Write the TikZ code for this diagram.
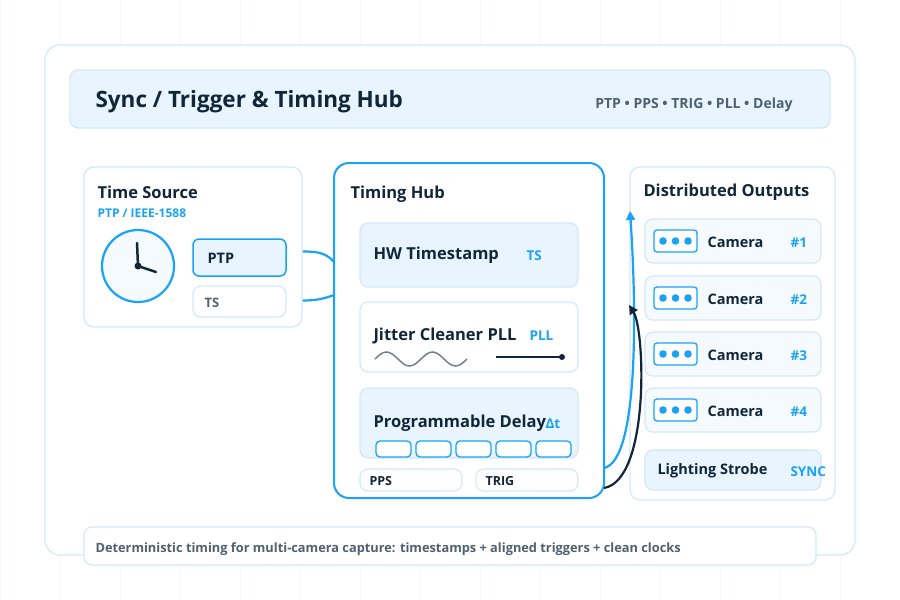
\documentclass[tikz,border=0pt]{standalone}
\usepackage{fontspec}
\setmainfont{Open Sans}
\usetikzlibrary{positioning,arrows.meta}
\definecolor{ink}{HTML}{12263A}
\definecolor{accent}{HTML}{1AA3F5}
\definecolor{soft}{HTML}{D2E8FA}
\definecolor{pale}{HTML}{E8F4FE}
\definecolor{paler}{HTML}{F5FAFF}
\definecolor{muted}{HTML}{4F6070}
\begin{document}
\begin{tikzpicture}
	[
		x=1pt, y=-1pt,
		panel/.style={draw=soft, line width=1.2pt, rounded corners=10pt, fill=white},
		card/.style={draw=soft, line width=1.2pt, rounded corners=8pt},
		head/.style={anchor=west, font=\bfseries\fontsize{16.5}{19}\selectfont, text=ink},
		tag/.style={anchor=west, font=\bfseries\fontsize{13.5}{15}\selectfont, text=accent},
		link/.style={accent, line width=2.2pt},
		arrow/.style={-{Triangle[length=9pt,width=9pt]}, line width=2.2pt}
	]
	\useasboundingbox (0,0) rectangle (900,600);
	\fill[white] (0,0) rectangle (900,600);
	\draw[pale!50, line width=0.6pt] (0,0) grid[step=60] (900,600);

	% frame and header
	\draw[panel, rounded corners=15pt] (45,45) rectangle (855,555);
	\draw[card, fill=pale] (70,70) rectangle (830,128);
	\node[anchor=west, font=\bfseries\fontsize{22.5}{26}\selectfont, text=ink] (title) at (92,102) {Sync / Trigger \& Timing Hub};
	\node[anchor=east, font=\bfseries\fontsize{14}{16}\selectfont, text=muted] (proto) at (796,105) {PTP • PPS • TRIG • PLL • Delay};

	% time source
	\draw[panel] (84,167) rectangle (302,327);
	\node[head] (srct) at (94,192) {Time Source};
	\node[tag, font=\bfseries\fontsize{12}{14}\selectfont] (srcs) at (94,213) {PTP / IEEE-1588};
	\node[circle, draw=accent, line width=2.2pt, fill=paler, minimum size=72pt] (clock) at (138,266) {};
	\draw[ink, line width=2.5pt, line cap=round] (137,243) -- (clock.center) -- (156,272);
	\fill[ink] (clock.center) circle (3.5pt);
	\node[draw=accent, line width=1.5pt, fill=pale, rounded corners=6pt, minimum width=93pt, minimum height=37pt] (ptp) at (239.5,257.5) {};
	\node[anchor=west, font=\bfseries\fontsize{14.5}{16}\selectfont, text=ink] at (204,258) {PTP};
	\node[card, fill=white, minimum width=93pt, minimum height=31pt] (ts) at (239.5,301.5) {};
	\node[anchor=west, font=\bfseries\fontsize{13}{15}\selectfont, text=muted] at (201,303) {TS};

	% timing hub
	\node[draw=accent, line width=2pt, rounded corners=15pt, fill=white, minimum width=270pt, minimum height=335pt] (hub) at (469,330.5) {};
	\node[head] (hubt) at (347,194) {Timing Hub};
	\draw[card, fill=pale] (360,223) rectangle (578,287);
	\node[head] (hwts) at (370,255) {HW Timestamp};
	\node[tag] at (523,256) {TS};
	\draw[card, fill=white] (360,302) rectangle (578,372);
	\node[head] (pll) at (370,336) {Jitter Cleaner PLL};
	\node[tag] at (526,336) {PLL};
	\draw[muted!80, line width=1.5pt] (375,359) sin (386.5,352) cos (398,359) sin (409.5,366) cos (421,359) sin (432.5,352) cos (444,359) sin (455.5,366) cos (467,359);
	\draw[ink, line width=2pt] (496,357) -- (562,357);
	\fill[ink] (562,357) circle (3pt);
	\draw[card, fill=pale] (360,388) rectangle (578,458);
	\node[head] (delay) at (370,423) {Programmable Delay};
	\node[tag] at (542,424) {Δt};
	\foreach \xa in {376,416,456,496,536}
		\draw[accent, line width=1.3pt, fill=white, rounded corners=4pt] (\xa,441) rectangle ++(35,16);
	\draw[card, fill=white] (360,469) rectangle (462,491);
	\node[anchor=west, font=\bfseries\fontsize{12.5}{14}\selectfont, text=ink] (pps) at (366,481) {PPS};
	\draw[card, fill=white] (476,469) rectangle (578,491);
	\node[anchor=west, font=\bfseries\fontsize{12.5}{14}\selectfont, text=ink] (trig) at (482,481) {TRIG};

	% distributed outputs
	\draw[panel] (630,167) rectangle (835,500);
	\node[head] (outt) at (640,192) {Distributed Outputs};
	\foreach \n/\yc in {1/241,2/298,3/354,4/410} {
		\draw[card, fill=paler] (645,\yc-22) rectangle (821,\yc+22);
		\draw[accent, line width=1.3pt, fill=white, rounded corners=3pt] (654,\yc-11) rectangle (697,\yc+11);
		\foreach \dx in {663,675.5,688} \fill[accent] (\dx,\yc) circle (3.8pt);
		\node[anchor=west, font=\bfseries\fontsize{14.5}{16}\selectfont, text=ink] (cam\n) at (704,\yc+1) {Camera};
		\node[tag] at (787,\yc+2) {\#\n};
	}
	\draw[card, fill=pale] (645,450) rectangle (821,490);
	\node[anchor=west, font=\bfseries\fontsize{14.5}{16}\selectfont, text=ink] (strobe) at (654,471) {Lighting Strobe};
	\node[tag] at (787,472) {SYNC};

	% connectors
	\coordinate (hubin1) at (334,262);
	\coordinate (hubin2) at (334,295);
	\coordinate (hubout1) at (604,468);
	\coordinate (hubout2) at (604,488);
	\coordinate (outs1) at (630,211);
	\coordinate (outs2) at (629,305);
	\draw[link] (ptp.east) ++(16,-6) to[out=0, in=130] (hubin1);
	\draw[link] (ts.east) ++(16,-1) to[out=0, in=-160] (hubin2);
	\draw[arrow, accent] (hubout1) .. controls (640,460) and (636,300) .. (outs1);
	\draw[arrow, ink] (hubout2) .. controls (650,480) and (645,330) .. (outs2);

	% footer
	\draw[card, fill=white] (84,527) rectangle (816,565);
	\node[anchor=west, font=\bfseries\fontsize{12.8}{14}\selectfont, text=muted] (note) at (92,549) {Deterministic timing for multi-camera capture: timestamps + aligned triggers + clean clocks};
\end{tikzpicture}
\end{document}
